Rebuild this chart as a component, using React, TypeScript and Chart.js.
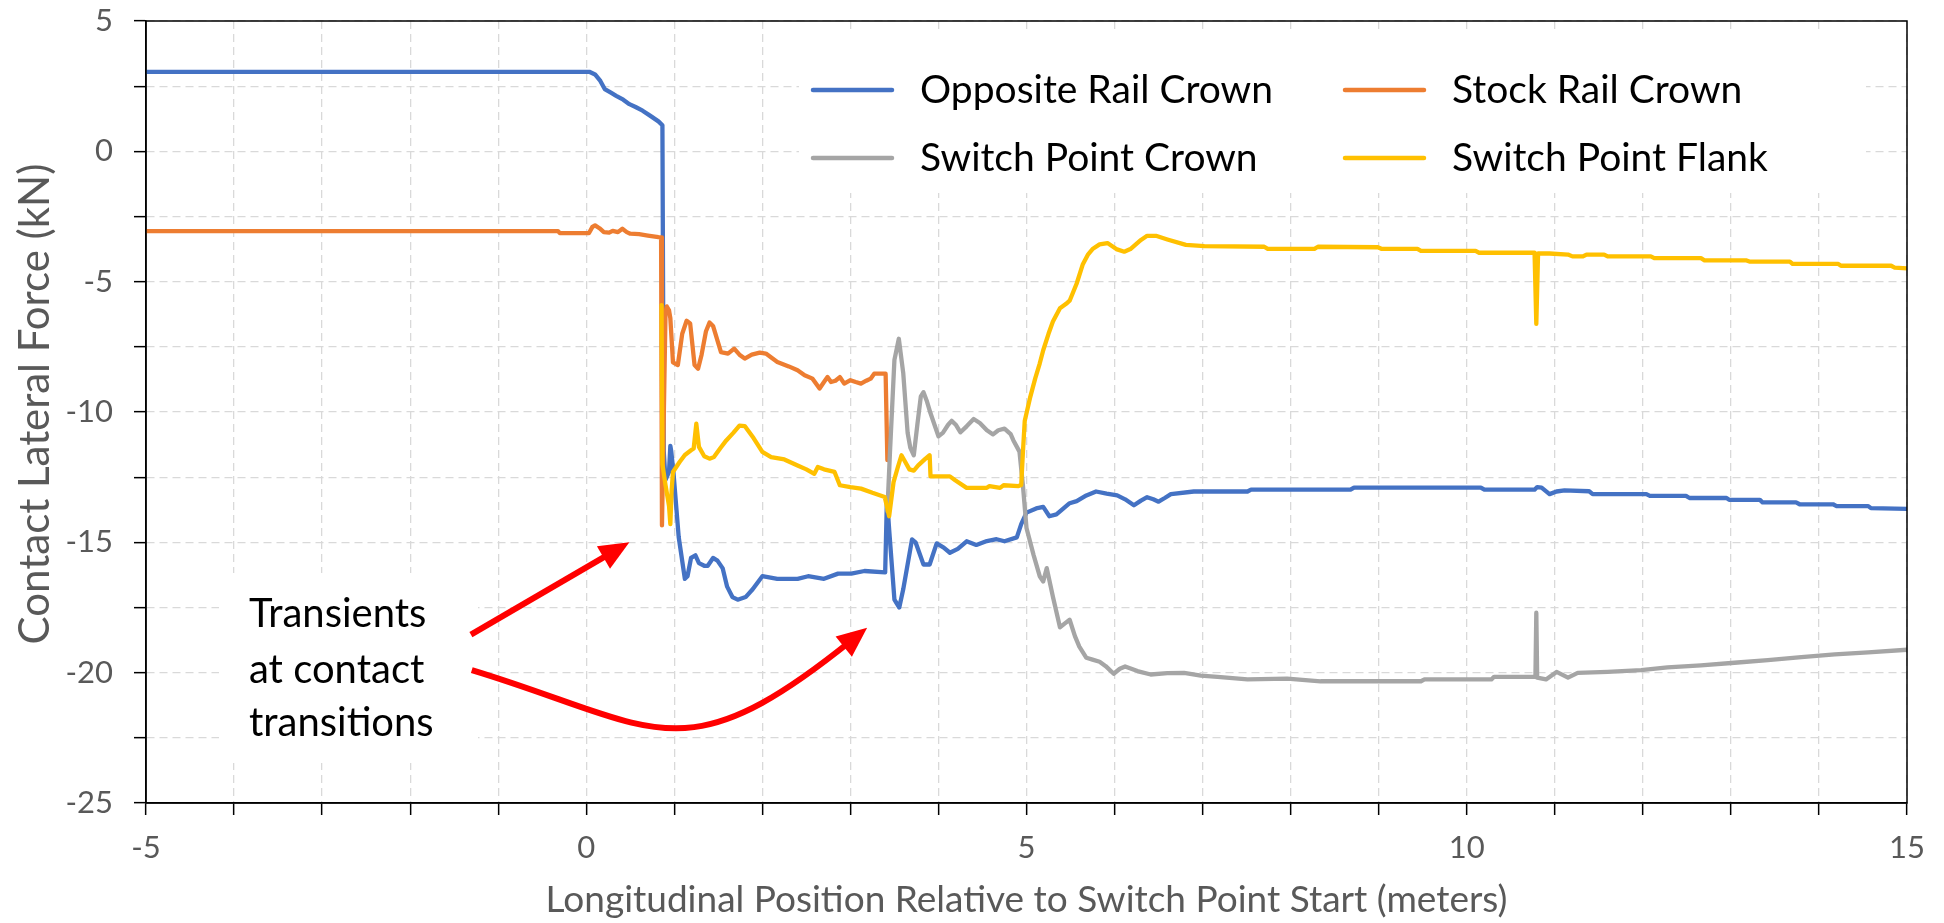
import React, { useEffect, useRef } from 'react';
import { Chart, registerables } from 'chart.js';

Chart.register(...registerables);

// ---------- axis ranges & tick labels ----------
const X_MIN = -5;
const X_MAX = 15;
const Y_MIN = -25;
const Y_MAX = 5;
const X_TICK_LABELS = [-5, 0, 5, 10, 15];
const Y_TICK_LABELS = [-25, -20, -15, -10, -5, 0, 5];

const X_TITLE = 'Longitudinal Position Relative to Switch Point Start (meters)';
const Y_TITLE = 'Contact Lateral Force (kN)';

const SERIES_NAMES = ['Opposite Rail Crown', 'Stock Rail Crown', 'Switch Point Crown', 'Switch Point Flank'];
const SERIES_COLORS = ['#4472C4', '#ED7D31', '#A5A5A5', '#FFC000'];

// ---------- series values: [position (m), force (kN)] ----------
const oppositeRailCrown: [number, number][] = [
  [-5, 3.05], [0.035, 3.05], [0.1, 2.95], [0.16, 2.7], [0.21, 2.39], [0.28, 2.25], [0.34, 2.13], [0.42, 1.98],
  [0.49, 1.81], [0.56, 1.7], [0.64, 1.56], [0.72, 1.38], [0.82, 1.15], [0.865, 1.0], [0.88, -11.5], [0.9, -12.6],
  [0.94, -12.3], [0.955, -11.3], [0.965, -11.5], [0.99, -12.3], [1.05, -14.8], [1.12, -16.4], [1.15, -16.3],
  [1.19, -15.6], [1.24, -15.5], [1.28, -15.8], [1.34, -15.9], [1.38, -15.9], [1.44, -15.6], [1.49, -15.7],
  [1.55, -16.0], [1.6, -16.7], [1.66, -17.1], [1.72, -17.2], [1.81, -17.1], [1.89, -16.8], [2.0, -16.3],
  [2.17, -16.4], [2.4, -16.4], [2.52, -16.3], [2.7, -16.4], [2.86, -16.2], [3.01, -16.2], [3.16, -16.1],
  [3.395, -16.15], [3.415, -13.3], [3.44, -14.5], [3.5, -17.2], [3.555, -17.5], [3.6, -16.8], [3.7, -14.89],
  [3.74, -15.0], [3.83, -15.85], [3.9, -15.85], [3.98, -15.04], [4.06, -15.2], [4.13, -15.4], [4.22, -15.25],
  [4.32, -14.96], [4.43, -15.1], [4.55, -14.95], [4.66, -14.88], [4.75, -14.96], [4.89, -14.81], [4.94, -14.3],
  [5.0, -13.86], [5.11, -13.7], [5.19, -13.64], [5.26, -14.0], [5.34, -13.93], [5.42, -13.7], [5.49, -13.5],
  [5.57, -13.42], [5.68, -13.2], [5.79, -13.05], [5.91, -13.13], [6.03, -13.2], [6.12, -13.35], [6.22, -13.58],
  [6.3, -13.4], [6.37, -13.27], [6.44, -13.35], [6.5, -13.44], [6.57, -13.3], [6.64, -13.15], [6.9, -13.05],
  [7.51, -13.05], [7.55, -12.98], [8.68, -12.98], [8.72, -12.9], [10.16, -12.9], [10.2, -12.98], [10.77, -12.98],
  [10.8, -12.88], [10.85, -12.9], [10.94, -13.15], [11.02, -13.05], [11.11, -13.01], [11.39, -13.04],
  [11.43, -13.15], [12.04, -13.15], [12.08, -13.22], [12.49, -13.22], [12.53, -13.3], [12.95, -13.3],
  [12.98, -13.37], [13.33, -13.37], [13.36, -13.47], [13.74, -13.47], [13.78, -13.54], [14.16, -13.54],
  [14.2, -13.61], [14.56, -13.61], [14.59, -13.69], [15, -13.72],
];

const stockRailCrown: [number, number][] = [
  [-5, -3.06], [-0.32, -3.06], [-0.3, -3.14], [0.03, -3.14], [0.07, -2.9], [0.1, -2.84], [0.15, -2.95],
  [0.2, -3.1], [0.26, -3.12], [0.3, -3.05], [0.36, -3.1], [0.41, -2.97], [0.46, -3.1], [0.5, -3.16], [0.6, -3.18],
  [0.7, -3.23], [0.82, -3.29], [0.85, -3.3], [0.86, -14.35], [0.9, -6.2], [0.915, -5.95], [0.94, -6.1],
  [0.955, -6.4], [0.985, -8.1], [1.04, -8.2], [1.09, -7.0], [1.14, -6.5], [1.18, -6.6], [1.23, -8.2],
  [1.27, -8.34], [1.31, -7.8], [1.36, -6.9], [1.4, -6.57], [1.44, -6.7], [1.53, -7.7], [1.61, -7.76],
  [1.68, -7.57], [1.74, -7.8], [1.8, -7.95], [1.88, -7.8], [1.97, -7.72], [2.04, -7.76], [2.17, -8.08],
  [2.3, -8.25], [2.4, -8.4], [2.48, -8.59], [2.57, -8.72], [2.65, -9.1], [2.7, -8.85], [2.74, -8.66],
  [2.78, -8.85], [2.83, -8.8], [2.88, -8.66], [2.93, -8.91], [3.0, -8.78], [3.06, -8.85], [3.12, -8.91],
  [3.18, -8.8], [3.23, -8.72], [3.27, -8.53], [3.4, -8.53], [3.42, -11.85],
];

const switchPointCrown: [number, number][] = [
  [3.42, -13.8], [3.45, -11.5], [3.5, -8.0], [3.55, -7.19], [3.6, -8.5], [3.65, -10.8], [3.68, -11.37],
  [3.72, -11.66], [3.76, -10.5], [3.8, -9.4], [3.83, -9.24], [3.87, -9.6], [3.91, -10.05], [4.0, -10.93],
  [4.05, -10.8], [4.11, -10.49], [4.15, -10.34], [4.2, -10.5], [4.25, -10.78], [4.32, -10.55], [4.4, -10.27],
  [4.47, -10.42], [4.55, -10.7], [4.62, -10.86], [4.68, -10.7], [4.75, -10.64], [4.82, -10.85], [4.85, -11.08],
  [4.92, -11.52], [4.96, -12.84], [5.0, -14.45], [5.08, -15.48], [5.15, -16.3], [5.19, -16.5], [5.23, -15.99],
  [5.3, -17.09], [5.38, -18.26], [5.44, -18.1], [5.49, -17.97], [5.55, -18.6], [5.6, -19.0], [5.68, -19.43],
  [5.75, -19.5], [5.83, -19.58], [5.9, -19.75], [5.99, -20.04], [6.06, -19.85], [6.12, -19.76], [6.26, -19.94],
  [6.41, -20.07], [6.6, -20.02], [6.79, -20.01], [6.98, -20.11], [7.17, -20.16], [7.51, -20.26], [7.96, -20.23],
  [8.34, -20.33], [9.48, -20.33], [9.52, -20.26], [10.28, -20.26], [10.31, -20.16], [10.78, -20.16],
  [10.79, -17.7], [10.8, -20.19], [10.9, -20.26], [11.02, -19.97], [11.15, -20.19], [11.26, -20.01],
  [11.6, -19.97], [11.98, -19.9], [12.28, -19.8], [12.66, -19.72], [13.04, -19.62], [13.42, -19.52],
  [13.8, -19.4], [14.18, -19.3], [14.56, -19.22], [15, -19.12],
];

const switchPointFlank: [number, number][] = [
  [0.855, -5.9], [0.865, -12.0], [0.9, -12.8], [0.94, -13.6], [0.955, -14.3], [0.97, -13.0], [0.985, -12.3],
  [1.06, -11.92], [1.12, -11.65], [1.19, -11.47], [1.22, -11.4], [1.25, -10.45], [1.28, -11.34], [1.34, -11.7],
  [1.4, -11.79], [1.45, -11.73], [1.52, -11.4], [1.59, -11.09], [1.67, -10.8], [1.74, -10.52], [1.8, -10.54],
  [1.9, -11.0], [2.0, -11.53], [2.1, -11.73], [2.25, -11.82], [2.4, -12.05], [2.5, -12.2], [2.59, -12.37],
  [2.63, -12.11], [2.7, -12.2], [2.82, -12.3], [2.88, -12.81], [3.0, -12.88], [3.12, -12.94], [3.25, -13.1],
  [3.39, -13.26], [3.44, -14.0], [3.49, -12.69], [3.54, -12.1], [3.58, -11.66], [3.62, -11.9], [3.67, -12.2],
  [3.72, -12.25], [3.77, -12.05], [3.85, -11.8], [3.9, -11.66], [3.91, -12.47], [4.13, -12.47], [4.19, -12.62],
  [4.32, -12.91], [4.55, -12.91], [4.58, -12.84], [4.7, -12.91], [4.74, -12.81], [4.91, -12.84], [4.94, -12.8],
  [4.96, -11.5], [4.98, -10.34], [5.04, -9.46], [5.1, -8.7], [5.15, -8.14], [5.19, -7.63], [5.25, -7.0],
  [5.3, -6.53], [5.38, -6.02], [5.45, -5.85], [5.49, -5.73], [5.57, -5.07], [5.64, -4.33], [5.7, -3.95],
  [5.75, -3.75], [5.83, -3.57], [5.92, -3.52], [6.02, -3.75], [6.11, -3.85], [6.18, -3.75], [6.3, -3.4],
  [6.37, -3.24], [6.47, -3.24], [6.6, -3.38], [6.81, -3.59], [7.02, -3.64], [7.7, -3.66], [7.74, -3.74],
  [8.27, -3.74], [8.31, -3.66], [8.99, -3.68], [9.03, -3.74], [9.44, -3.74], [9.48, -3.82], [10.1, -3.82],
  [10.14, -3.89], [10.77, -3.89], [10.79, -6.62], [10.81, -3.92], [10.94, -3.92], [11.15, -3.96], [11.2, -4.03],
  [11.32, -4.03], [11.36, -3.96], [11.56, -3.96], [11.6, -4.03], [12.09, -4.03], [12.13, -4.1], [12.66, -4.1],
  [12.7, -4.18], [13.17, -4.18], [13.21, -4.23], [13.67, -4.23], [13.7, -4.32], [14.22, -4.32], [14.25, -4.39],
  [14.82, -4.39], [14.86, -4.46], [15, -4.49],
];

const SERIES_DATA = [oppositeRailCrown, stockRailCrown, switchPointCrown, switchPointFlank];

// ---------- annotation ----------
const NOTE_LINES = ['Transients', 'at contact', 'transitions'];
// arrow anchor points in data units (x m, y kN)
const ARROW_STRAIGHT: [number, number][] = [[-1.31, -18.54], [0.49, -15.0]];
const ARROW_CURVED: [number, number][] = [[-1.3, -19.9], [0.8, -22.05], [1.25, -23.55], [3.19, -18.28]];

const FONT = 'Lato';

const overlayPlugin = {
  id: 'overlay',
  beforeDatasetsDraw(chart: any) {
    const { ctx, chartArea: ca } = chart;
    ctx.save();
    // legend box (white, hides grid)
    ctx.fillStyle = '#ffffff';
    ctx.fillRect(ca.left + 653, ca.top + 13, 1067, 159);
    // annotation text box
    ctx.fillRect(ca.left + 73, ca.top + 552, 259, 190);

    // legend items
    const cols = [ca.left + 667, ca.left + 1199];
    const rows = [ca.top + 69, ca.top + 137];
    [0, 1, 2, 3].forEach((si, k) => {
      const cx = cols[k % 2];
      const cy = rows[Math.floor(k / 2)];
      ctx.strokeStyle = SERIES_COLORS[si];
      ctx.lineWidth = 4.5;
      ctx.lineCap = 'round';
      ctx.beginPath();
      ctx.moveTo(cx, cy);
      ctx.lineTo(cx + 79, cy);
      ctx.stroke();
      ctx.fillStyle = '#000000';
      ctx.font = `39px ${FONT}`;
      ctx.textAlign = 'left';
      ctx.textBaseline = 'middle';
      ctx.fillText(SERIES_NAMES[si], cx + 107, cy);
    });

    // annotation text
    ctx.fillStyle = '#000000';
    ctx.font = `40px ${FONT}`;
    ctx.textAlign = 'left';
    ctx.textBaseline = 'middle';
    const ty = [593, 649, 702];
    NOTE_LINES.forEach((t, i) => ctx.fillText(t, ca.left + 103, ca.top + ty[i]));
    ctx.restore();
  },
  afterDatasetsDraw(chart: any) {
    const { ctx, chartArea: ca, scales } = chart;
    const xs = scales.x;
    const ys = scales.y;
    const P = (p: [number, number]) => [xs.getPixelForValue(p[0]), ys.getPixelForValue(p[1])];
    ctx.save();
    // plot-area border
    ctx.strokeStyle = '#000000';
    ctx.lineWidth = 1.5;
    ctx.strokeRect(ca.left, ca.top, ca.right - ca.left, ca.bottom - ca.top);

    // y-axis title
    ctx.save();
    ctx.translate(35, (ca.top + ca.bottom) / 2 - 8);
    ctx.rotate(-Math.PI / 2);
    ctx.fillStyle = '#595959';
    ctx.font = `42px ${FONT}`;
    ctx.textAlign = 'center';
    ctx.textBaseline = 'middle';
    ctx.fillText(Y_TITLE, 0, 0);
    ctx.restore();

    const headLen = 30;
    const headW = 26;
    const red = '#FF0000';
    const head = (tip: number[], from: number[]) => {
      const dx = tip[0] - from[0];
      const dy = tip[1] - from[1];
      const d = Math.hypot(dx, dy);
      const ux = dx / d, uy = dy / d;
      const bx = tip[0] - ux * headLen, by = tip[1] - uy * headLen;
      ctx.fillStyle = red;
      ctx.beginPath();
      ctx.moveTo(tip[0], tip[1]);
      ctx.lineTo(bx - uy * headW / 2, by + ux * headW / 2);
      ctx.lineTo(bx + uy * headW / 2, by - ux * headW / 2);
      ctx.closePath();
      ctx.fill();
      return [ux, uy];
    };
    ctx.strokeStyle = red;
    ctx.lineWidth = 6;
    ctx.lineCap = 'butt';
    // straight arrow
    const a0 = P(ARROW_STRAIGHT[0]);
    const a1 = P(ARROW_STRAIGHT[1]);
    const [u1x, u1y] = head(a1, a0);
    ctx.beginPath();
    ctx.moveTo(a0[0], a0[1]);
    ctx.lineTo(a1[0] - u1x * headLen * 0.7, a1[1] - u1y * headLen * 0.7);
    ctx.stroke();
    // curved arrow
    const c0 = P(ARROW_CURVED[0]);
    const c1 = P(ARROW_CURVED[1]);
    const c2 = P(ARROW_CURVED[2]);
    const c3 = P(ARROW_CURVED[3]);
    const [u2x, u2y] = head(c3, c2);
    const sh = headLen * 0.7;
    ctx.beginPath();
    ctx.moveTo(c0[0], c0[1]);
    ctx.bezierCurveTo(c1[0], c1[1], c2[0] - u2x * sh, c2[1] - u2y * sh, c3[0] - u2x * sh, c3[1] - u2y * sh);
    ctx.stroke();
    ctx.restore();
  },
};

export default function App() {
  const ref = useRef<HTMLCanvasElement | null>(null);

  useEffect(() => {
    const canvas = ref.current;
    if (!canvas) return;
    const tickFont = { family: FONT, size: 31 };
    const gridOpts = {
      color: '#D9D9D9',
      lineWidth: 1.3,
      drawTicks: true,
      tickLength: 12,
      tickColor: '#000000',
      tickWidth: 1.5,
      tickBorderDash: [],
    };
    const chart = new Chart(canvas, {
      type: 'line',
      data: {
        datasets: SERIES_DATA.map((arr, i) => ({
          label: SERIES_NAMES[i],
          data: arr.map(([x, y]) => ({ x, y })),
          borderColor: SERIES_COLORS[i],
          backgroundColor: SERIES_COLORS[i],
          borderWidth: 4.3,
          pointRadius: 0,
          pointHoverRadius: 0,
          tension: 0,
          fill: false,
          order: 4 - i,
          borderJoinStyle: 'round',
          borderCapStyle: 'round',
        })),
      },
      options: {
        animation: false,
        responsive: false,
        devicePixelRatio: 1,
        events: [],
        layout: { autoPadding: false, padding: { top: 21, right: 37, left: 0, bottom: 0 } },
        plugins: { legend: { display: false }, tooltip: { enabled: false }, title: { display: false } },
        scales: {
          x: {
            type: 'linear',
            min: X_MIN,
            max: X_MAX,
            afterFit: (s: any) => { s.height = 120; s.paddingLeft = 0; s.paddingRight = 0; },
            ticks: {
              stepSize: 1,
              autoSkip: false,
              maxRotation: 0,
              minRotation: 0,
              padding: 14,
              color: '#595959',
              font: tickFont,
              callback: (v: any) => (X_TICK_LABELS.includes(Number(v)) ? String(v) : ''),
            },
            grid: gridOpts,
            border: { display: true, color: '#000000', width: 1.5, dash: [8, 5] },
            title: {
              display: true,
              text: X_TITLE,
              color: '#595959',
              font: { family: FONT, size: 37, lineHeight: 1 },
              padding: { top: 0, bottom: 4 },
            },
          },
          y: {
            type: 'linear',
            min: Y_MIN,
            max: Y_MAX,
            afterFit: (s: any) => { s.width = 146; s.paddingTop = 0; s.paddingBottom = 0; },
            ticks: {
              stepSize: 2.5,
              autoSkip: false,
              padding: 21,
              color: '#595959',
              font: tickFont,
              callback: (v: any) => (Y_TICK_LABELS.includes(Number(v)) ? String(v) : ''),
            },
            grid: gridOpts,
            border: { display: true, color: '#000000', width: 1.5, dash: [8, 5] },
            title: { display: false },
          },
        },
      },
      plugins: [overlayPlugin],
    } as any);
    return () => chart.destroy();
  }, []);

  return (
    <div style={{ position: 'absolute', left: 0, top: 0, width: 1944, height: 923, background: '#ffffff' }}>
      <canvas ref={ref} width={1944} height={923} style={{ display: 'block', width: 1944, height: 923 }} />
    </div>
  );
}
